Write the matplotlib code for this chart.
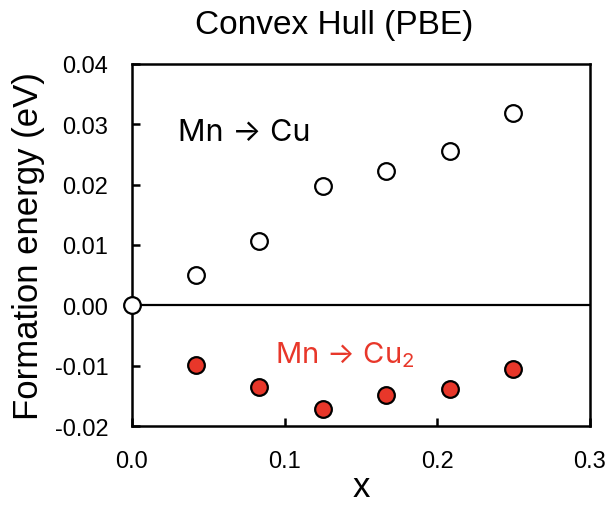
import numpy as np
import matplotlib
matplotlib.use('Agg')
import matplotlib.pyplot as plt

plt.rcParams['font.family'] = ['Liberation Sans', 'DejaVu Sans']
plt.rcParams['mathtext.fontset'] = 'custom'
plt.rcParams['mathtext.rm'] = 'Inter'

# composition x and formation energies (eV)
x_vals = [1/24, 2/24, 3/24, 4/24, 5/24, 6/24]
e_cu = [0.0051, 0.0106, 0.0197, 0.0222, 0.0255, 0.0318]
e_cu2 = [-0.0099, -0.0136, -0.0172, -0.0148, -0.0138, -0.0106]
x_ref = [0.0]
e_ref = [0.0]

red = '#e8372a'

fig = plt.figure(figsize=(6.08, 5.06), dpi=100)
ax = fig.add_axes([0.217, 0.156, 0.753, 0.716])

ax.axhline(0, color='black', lw=1.6, zorder=1)
ax.plot(x_vals, e_cu, 'o', ms=12, mfc='white', mec='black', mew=1.6, zorder=3)
ax.plot(x_vals, e_cu2, 'o', ms=12, mfc=red, mec='black', mew=1.6, zorder=3)
ax.plot(x_ref, e_ref, 'o', ms=12, mfc='white', mec='black', mew=1.6,
        zorder=4, clip_on=False)

ax.set_xlim(0, 0.3)
ax.set_ylim(-0.02, 0.04)
ax.set_xticks([0.0, 0.1, 0.2, 0.3])
ax.set_yticks(np.arange(-0.02, 0.041, 0.01))
ax.xaxis.set_major_formatter(matplotlib.ticker.FormatStrFormatter('%.1f'))
ax.yaxis.set_major_formatter(matplotlib.ticker.FormatStrFormatter('%.2f'))
ax.tick_params(direction='in', length=6, width=1.8, labelsize=17, pad=17)

for s in ax.spines.values():
    s.set_linewidth(1.8)

ax.text(0.0737, 0.0287, 'Mn \u2192 Cu', fontsize=22, color='black',
        ha='center', va='center', family=['Inter', 'DejaVu Sans'])
ax.text(0.1395, -0.0081, 'Mn \u2192 Cu$_2$', fontsize=21, color=red,
        ha='center', va='center', family=['Inter', 'DejaVu Sans'])

ax.set_title('Convex Hull (PBE)', fontsize=24, pad=22, x=0.441)
ax.set_ylabel('Formation energy (eV)', fontsize=25, labelpad=7)
ax.set_xlabel('x', fontsize=25, labelpad=-1)

fig.savefig('out.png', dpi=100)
